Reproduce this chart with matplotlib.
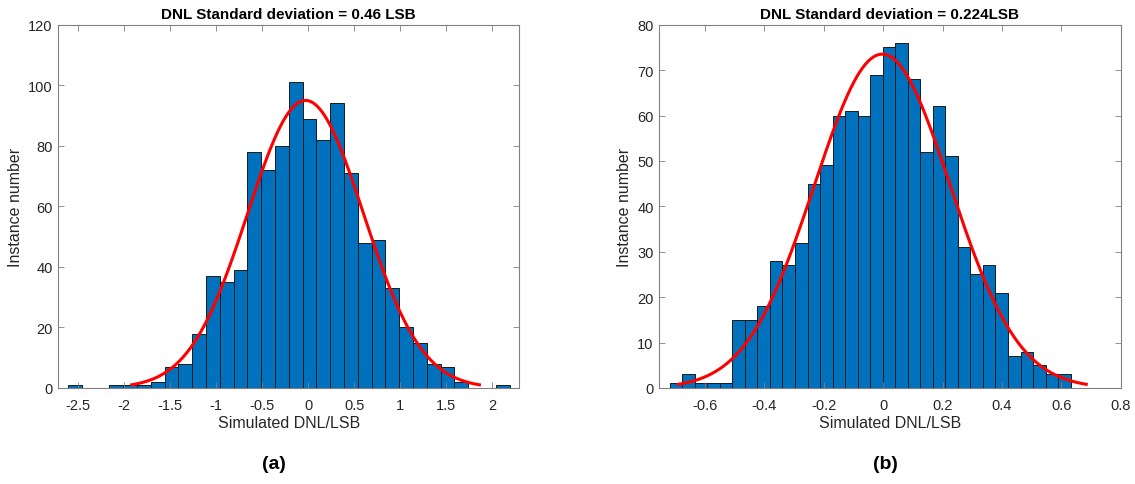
import numpy as np
import matplotlib
matplotlib.use('Agg')
import matplotlib.pyplot as plt

plt.rcParams['font.family'] = ['Liberation Sans', 'DejaVu Sans']

# data (a) --------------------------------------------------------------------
counts_a = [1, 0, 0, 1, 1, 1, 2, 7, 8, 18, 37, 35, 39, 78, 72, 80,
            101, 89, 82, 94, 71, 48, 49, 33, 20, 15, 8, 7, 2, 0, 0, 1]
bin_start_a = -2.612
bin_width_a = 0.15
fit_mu_a = -0.03
fit_sigma_a = 0.63
xlim_a = (-2.717, 2.293)
xticks_a = [-2.5, -2, -1.5, -1, -0.5, 0, 0.5, 1, 1.5, 2]
yticks_a = [0, 20, 40, 60, 80, 100, 120]
title_a = 'DNL Standard deviation = 0.46 LSB'

# data (b) --------------------------------------------------------------------
counts_b = [1, 3, 1, 1, 1, 15, 15, 18, 28, 27, 32, 45, 49, 60, 61, 60,
            69, 75, 76, 68, 52, 62, 51, 31, 25, 27, 21, 7, 8, 5, 3, 3]
bin_start_b = -0.719
bin_width_b = 0.0422
fit_mu_b = -0.003
fit_sigma_b = 0.229
xlim_b = (-0.754, 0.8)
xticks_b = [-0.6, -0.4, -0.2, 0, 0.2, 0.4, 0.6, 0.8]
yticks_b = [0, 10, 20, 30, 40, 50, 60, 70, 80]
title_b = 'DNL Standard deviation = 0.224LSB'

W, H = 1135, 485
fig = plt.figure(figsize=(W / 100, H / 100), dpi=100)

tick_col = '#262626'
axis_col = '#808080'


def hist_panel(rect, counts, start, width, mu, sigma, xlim, xticks, yticks, title):
    ax = fig.add_axes(rect)
    counts = np.array(counts)
    edges = start + width * np.arange(len(counts) + 1)
    ax.bar(edges[:-1], counts, width=width, align='edge',
           color='#0072BD', edgecolor='#1a1a1a', linewidth=0.7)

    # fitted normal curve (mu +- 3 sigma, like histfit)
    xs = np.linspace(mu - 3 * sigma, mu + 3 * sigma, 300)
    ys = counts.sum() * width * np.exp(-0.5 * ((xs - mu) / sigma) ** 2) / (sigma * np.sqrt(2 * np.pi))
    ax.plot(xs, ys, color='#FF0000', linewidth=2.2)

    ax.set_xlim(*xlim)
    ax.set_ylim(yticks[0], yticks[-1])
    ax.set_xticks(xticks)
    ax.set_xticklabels([f'{t:g}' for t in xticks])
    ax.set_yticks(yticks)
    ax.tick_params(direction='in', top=True, right=True, length=4, width=0.6,
                   colors=axis_col, labelcolor=tick_col, labelsize=10.5)
    ax.tick_params(axis='y', pad=4)
    ax.tick_params(axis='x', pad=7)
    for s in ax.spines.values():
        s.set_color(axis_col)
        s.set_linewidth(0.8)
    ax.set_title(title, fontsize=11, fontweight='bold', pad=5)
    ax.set_xlabel('Simulated DNL/LSB', fontsize=11.5, color=tick_col, labelpad=2)
    ax.set_ylabel('Instance number', fontsize=11.5, color=tick_col, labelpad=4)
    return ax


def rect(x0, x1, y0, y1):
    return [x0 / W, 1 - y1 / H, (x1 - x0) / W, (y1 - y0) / H]


hist_panel(rect(58.3, 519.3, 25.7, 389), counts_a, bin_start_a, bin_width_a,
           fit_mu_a, fit_sigma_a, xlim_a, xticks_a, yticks_a, title_a)
hist_panel(rect(659.3, 1120.7, 25.7, 389), counts_b, bin_start_b, bin_width_b,
           fit_mu_b, fit_sigma_b, xlim_b, xticks_b, yticks_b, title_b)

fig.text(274 / W, 1 - 465 / H, '(a)', ha='center', va='center', fontsize=14, fontweight='bold')
fig.text(885 / W, 1 - 465 / H, '(b)', ha='center', va='center', fontsize=14, fontweight='bold')

fig.savefig('out.png', dpi=100)
